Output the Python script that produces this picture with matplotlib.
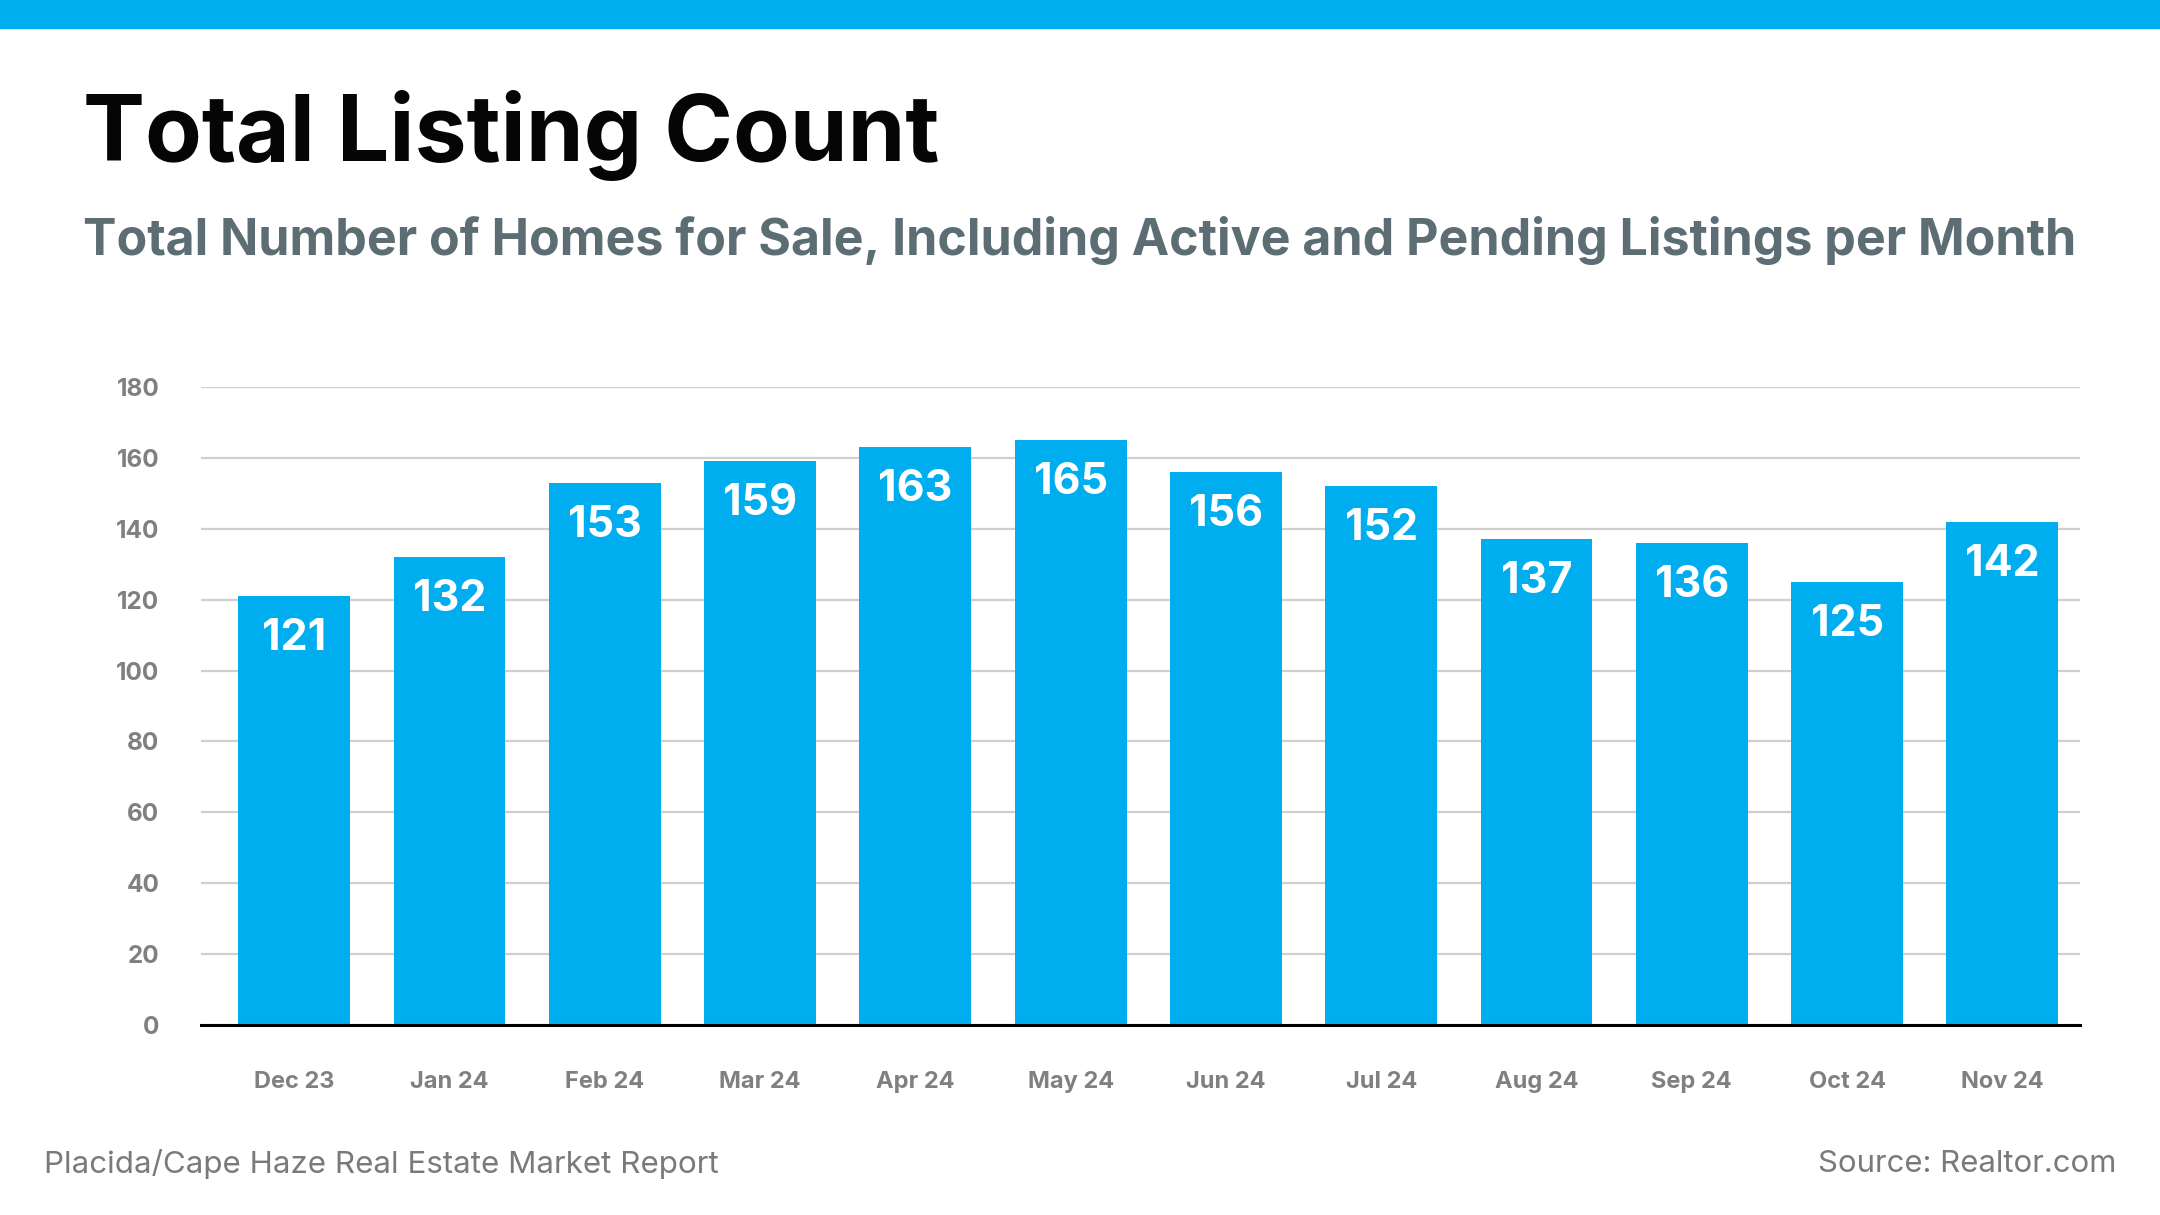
import matplotlib
matplotlib.use("Agg")
import matplotlib.pyplot as plt
from matplotlib.patches import Rectangle

months = ["Dec 23", "Jan 24", "Feb 24", "Mar 24", "Apr 24", "May 24",
          "Jun 24", "Jul 24", "Aug 24", "Sep 24", "Oct 24", "Nov 24"]
listings = [121, 132, 153, 159, 163, 165, 156, 152, 137, 136, 125, 142]
yticks = [0, 20, 40, 60, 80, 100, 120, 140, 160, 180]

title = "Total Listing Count"
subtitle = "Total Number of Homes for Sale, Including Active and Pending Listings per Month"
footer_left = "Placida/Cape Haze Real Estate Market Report"
footer_right = "Source: Realtor.com"

BLUE = "#00aeef"
FONT = "Inter"

W, H = 2160, 1215
fig = plt.figure(figsize=(W / 100, H / 100), dpi=100)
fig.patch.set_facecolor("white")

# blue band at the top
fig.add_artist(Rectangle((0, 1 - 28 / H), 1, 28 / H, transform=fig.transFigure,
                         color=BLUE, zorder=0))

ax = fig.add_axes([201 / W, 1 - 1025 / H, (2080 - 201) / W, (1025 - 387) / H])
x = list(range(len(months)))
bars = ax.bar(x, listings, width=0.72, color=BLUE, zorder=2)
ax.set_xlim(-0.6, 11.5)
ax.set_ylim(0, 180)
ax.set_yticks(yticks)
ax.set_yticklabels([str(v) for v in yticks])
ax.set_xticks(x)
ax.set_xticklabels(months)
ax.grid(axis="y", color="#cfcfcf", linewidth=1.6, zorder=0)
for s in ["top", "right", "left"]:
    ax.spines[s].set_visible(False)
ax.spines["bottom"].set_color("black")
ax.spines["bottom"].set_linewidth(2.2)
ax.spines["bottom"].set_zorder(3)
ax.tick_params(axis="both", length=0)
ax.tick_params(axis="y", pad=30)
ax.tick_params(axis="x", pad=33)
for lab in ax.get_yticklabels():
    lab.set_fontfamily(FONT)
    lab.set_fontweight("bold")
    lab.set_color("#808080")
    lab.set_fontsize(17.5)
for lab in ax.get_xticklabels():
    lab.set_fontfamily(FONT)
    lab.set_fontweight("bold")
    lab.set_color("#808080")
    lab.set_fontsize(17)

for b, v in zip(bars, listings):
    ax.text(b.get_x() + b.get_width() / 2, v - 12, str(v), ha="center", va="center",
            color="white", fontsize=31, fontweight="bold", fontfamily=FONT, zorder=4)

t1 = fig.text(83 / W, 1 - 161 / H, title, fontsize=66, fontweight="bold",
              fontfamily=FONT, color="#050505", va="baseline")
t2 = fig.text(83 / W, 1 - 255 / H, subtitle, fontsize=40, fontweight="bold",
              fontfamily=FONT, color="#5d6d74", va="baseline")
t3 = fig.text(44 / W, 1 - 1164 / H, footer_left, fontsize=22, fontfamily=FONT,
              color="#7a7a7a", va="center")
t4 = fig.text(2116 / W, 1 - 1164 / H, footer_right, fontsize=22, fontfamily=FONT,
              color="#7a7a7a", va="center", ha="right")

# scale the header and footer text to the widths seen in the reference
r = fig.canvas.get_renderer()
for t, target in [(t1, 857), (t2, 1994), (t3, 675), (t4, 298)]:
    w = t.get_window_extent(renderer=r).width
    t.set_fontsize(t.get_fontsize() * target / w)

fig.savefig("out.png", dpi=100)
